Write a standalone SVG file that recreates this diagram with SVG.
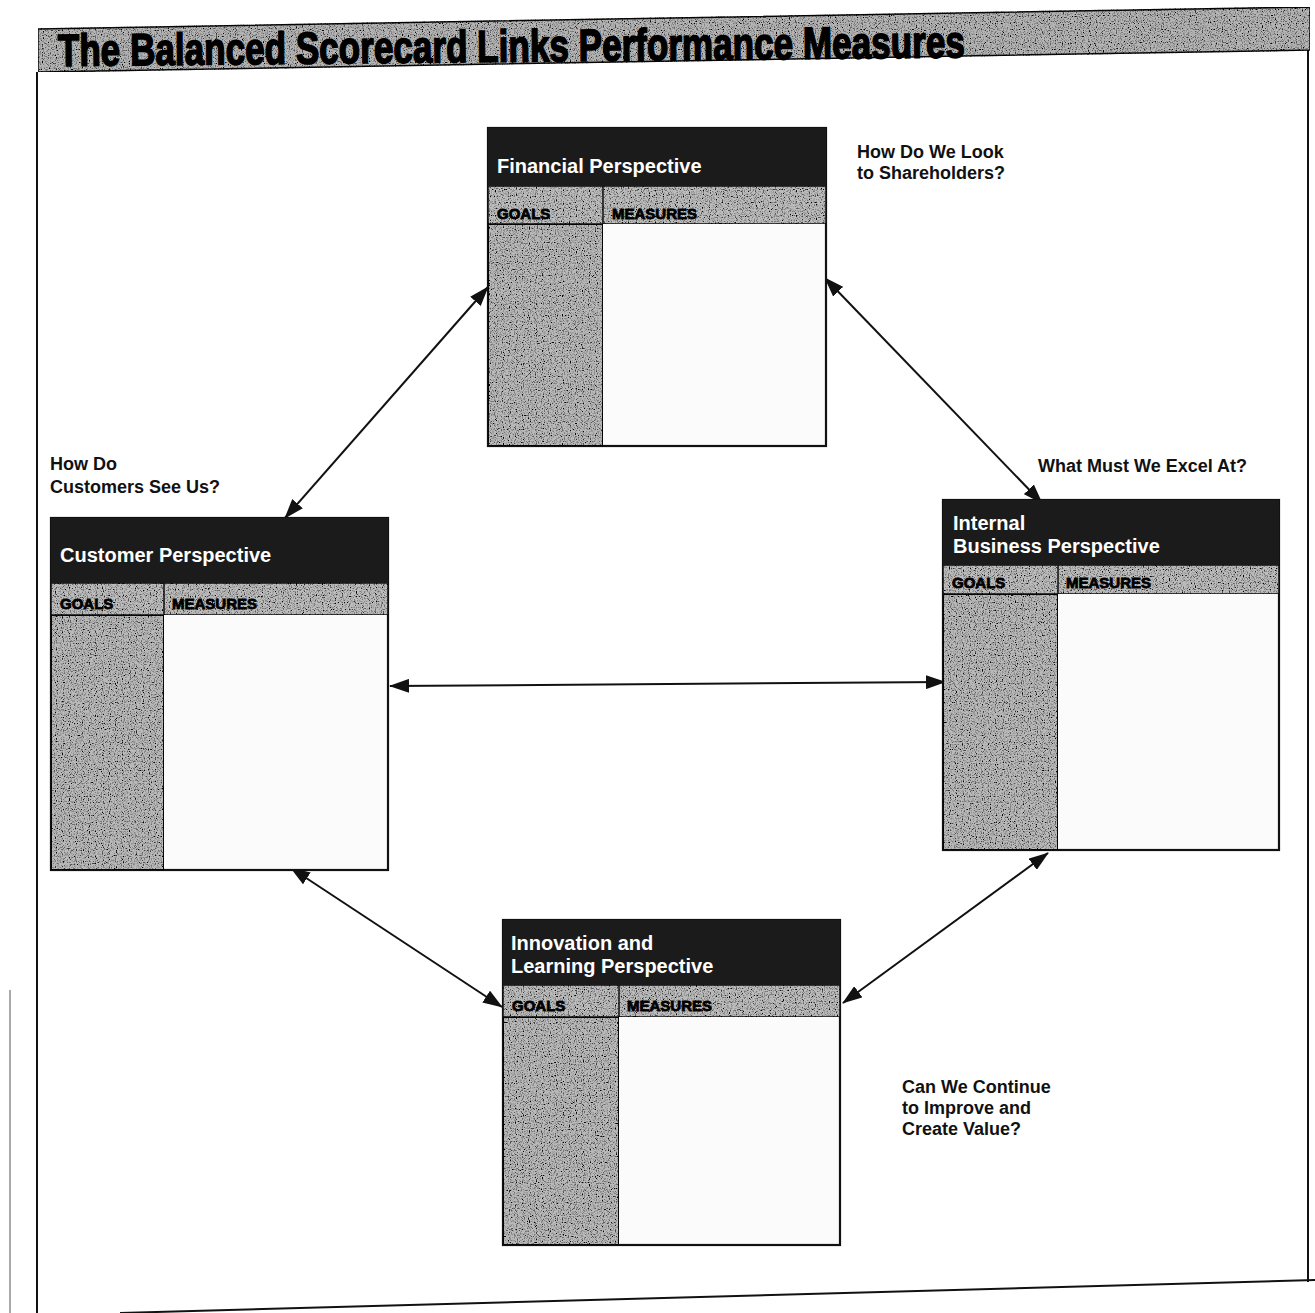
<svg xmlns="http://www.w3.org/2000/svg" width="1315" height="1313" viewBox="0 0 1315 1313">
  <style>
    .frame { fill: none; stroke: #111; stroke-width: 2; }
    .box { fill: #fbfbfb; stroke: #111; stroke-width: 2.2; }
    .head { fill: #1b1b1b; }
    .row { fill: #bdbdbd; stroke: #111; stroke-width: 1.5; filter: url(#grain); }
    .goals { fill: #bababa; stroke: #111; stroke-width: 2; filter: url(#grain); }
    .htxt { font-family: "Liberation Sans", Arial, sans-serif; font-weight: bold; font-size: 20px; fill: #fff; }
    .ctxt { font-family: "Liberation Sans Narrow", "Liberation Sans", Arial, sans-serif; font-weight: bold; font-size: 15px; fill: #000; stroke: #000; stroke-width: 0.8; }
    .lbl { font-family: "Liberation Sans", Arial, sans-serif; font-weight: bold; font-size: 18px; fill: #111; }
    .title { font-family: "Liberation Sans Narrow", "Liberation Sans", Arial, sans-serif; font-weight: bold; font-size: 45px; fill: #000; stroke: #000; stroke-width: 1.6; }
    .conn { stroke: #111; stroke-width: 2; fill: none; marker-start: url(#ah); marker-end: url(#ah); }
  </style>
  <defs>
    <marker id="ah" viewBox="0 0 20 14" refX="19" refY="7" markerWidth="20" markerHeight="14" markerUnits="userSpaceOnUse" orient="auto-start-reverse">
      <path d="M0,0 L20,7 L0,14 z" fill="#111"/>
    </marker>
    <filter id="grain" x="0" y="0" width="100%" height="100%">
      <feTurbulence type="fractalNoise" baseFrequency="0.85" numOctaves="1" seed="4" result="noise"/>
      <feColorMatrix in="noise" type="matrix" values="0 0 0 0 0  0 0 0 0 0  0 0 0 0 0  4 0 0 0 -1.9" result="dots"/>
      <feComposite in="dots" in2="SourceGraphic" operator="in" result="d2"/>
      <feMerge><feMergeNode in="SourceGraphic"/><feMergeNode in="d2"/></feMerge>
    </filter>
  </defs>
  <rect width="1315" height="1313" fill="#fff"/>

  <!-- page frame -->
  <g id="frame">
    <line class="frame" x1="37" y1="72" x2="37" y2="1313"/>
    <line class="frame" x1="1308" y1="50" x2="1308" y2="1282"/>
    <line class="frame" x1="120" y1="1313" x2="1315" y2="1280"/>
    <line x1="10" y1="990" x2="10" y2="1313" stroke="#555" stroke-width="1"/>
  </g>

  <!-- title band -->
  <g id="title">
    <polygon points="38,29 1310,7 1310,50 38,72" fill="#b5b5b5" stroke="#111" stroke-width="1.5" filter="url(#grain)"/>
    <text class="title" x="58" y="66" textLength="907" lengthAdjust="spacingAndGlyphs" transform="rotate(-0.55 58 66)">The  Balanced Scorecard Links Performance Measures</text>
  </g>

  <!-- connectors -->
  <g id="connectors">
    <line class="conn" x1="488" y1="287" x2="285" y2="518"/>
    <line class="conn" x1="825" y1="278" x2="1042" y2="503"/>
    <line class="conn" x1="390" y1="686" x2="945" y2="682"/>
    <line class="conn" x1="291" y1="868" x2="502" y2="1007"/>
    <line class="conn" x1="1048" y1="853" x2="843" y2="1003"/>
  </g>

  <!-- Financial -->
  <g id="financial">
    <rect class="box" x="488" y="128" width="338" height="318"/>
    <rect class="head" x="488" y="128" width="338" height="58"/>
    <rect class="row" x="488" y="186" width="338" height="38"/>
    <rect class="goals" x="488" y="224" width="115" height="222"/>
    <line x1="603" y1="186" x2="603" y2="224" stroke="#111" stroke-width="1.5"/>
    <text class="htxt" x="497" y="173">Financial Perspective</text>
    <text class="ctxt" x="497" y="219">GOALS</text>
    <text class="ctxt" x="612" y="219">MEASURES</text>
  </g>

  <!-- Customer -->
  <g id="customer">
    <rect class="box" x="51" y="518" width="337" height="352"/>
    <rect class="head" x="51" y="518" width="337" height="65"/>
    <rect class="row" x="51" y="583" width="337" height="32"/>
    <rect class="goals" x="51" y="615" width="113" height="255"/>
    <line x1="164" y1="583" x2="164" y2="615" stroke="#111" stroke-width="1.5"/>
    <text class="htxt" x="60" y="562">Customer Perspective</text>
    <text class="ctxt" x="60" y="609">GOALS</text>
    <text class="ctxt" x="172" y="609">MEASURES</text>
  </g>

  <!-- Internal Business -->
  <g id="internal">
    <rect class="box" x="943" y="500" width="336" height="350"/>
    <rect class="head" x="943" y="500" width="336" height="65"/>
    <rect class="row" x="943" y="565" width="336" height="29"/>
    <rect class="goals" x="943" y="594" width="115" height="256"/>
    <line x1="1058" y1="565" x2="1058" y2="594" stroke="#111" stroke-width="1.5"/>
    <text class="htxt" x="953" y="530">Internal</text>
    <text class="htxt" x="953" y="553">Business Perspective</text>
    <text class="ctxt" x="952" y="588">GOALS</text>
    <text class="ctxt" x="1066" y="588">MEASURES</text>
  </g>

  <!-- Innovation and Learning -->
  <g id="innovation">
    <rect class="box" x="503" y="920" width="337" height="325"/>
    <rect class="head" x="503" y="920" width="337" height="65"/>
    <rect class="row" x="503" y="985" width="337" height="32"/>
    <rect class="goals" x="503" y="1017" width="116" height="228"/>
    <line x1="619" y1="985" x2="619" y2="1017" stroke="#111" stroke-width="1.5"/>
    <text class="htxt" x="511" y="950">Innovation and</text>
    <text class="htxt" x="511" y="973">Learning Perspective</text>
    <text class="ctxt" x="512" y="1011">GOALS</text>
    <text class="ctxt" x="627" y="1011">MEASURES</text>
  </g>

  <!-- question labels -->
  <g id="labels">
    <text class="lbl" x="857" y="158">How Do We Look</text>
    <text class="lbl" x="857" y="179">to Shareholders?</text>
    <text class="lbl" x="50" y="470">How Do</text>
    <text class="lbl" x="50" y="493">Customers See Us?</text>
    <text class="lbl" x="1038" y="472">What Must We Excel At?</text>
    <text class="lbl" x="902" y="1093">Can We Continue</text>
    <text class="lbl" x="902" y="1114">to Improve and</text>
    <text class="lbl" x="902" y="1135">Create Value?</text>
  </g>
</svg>
